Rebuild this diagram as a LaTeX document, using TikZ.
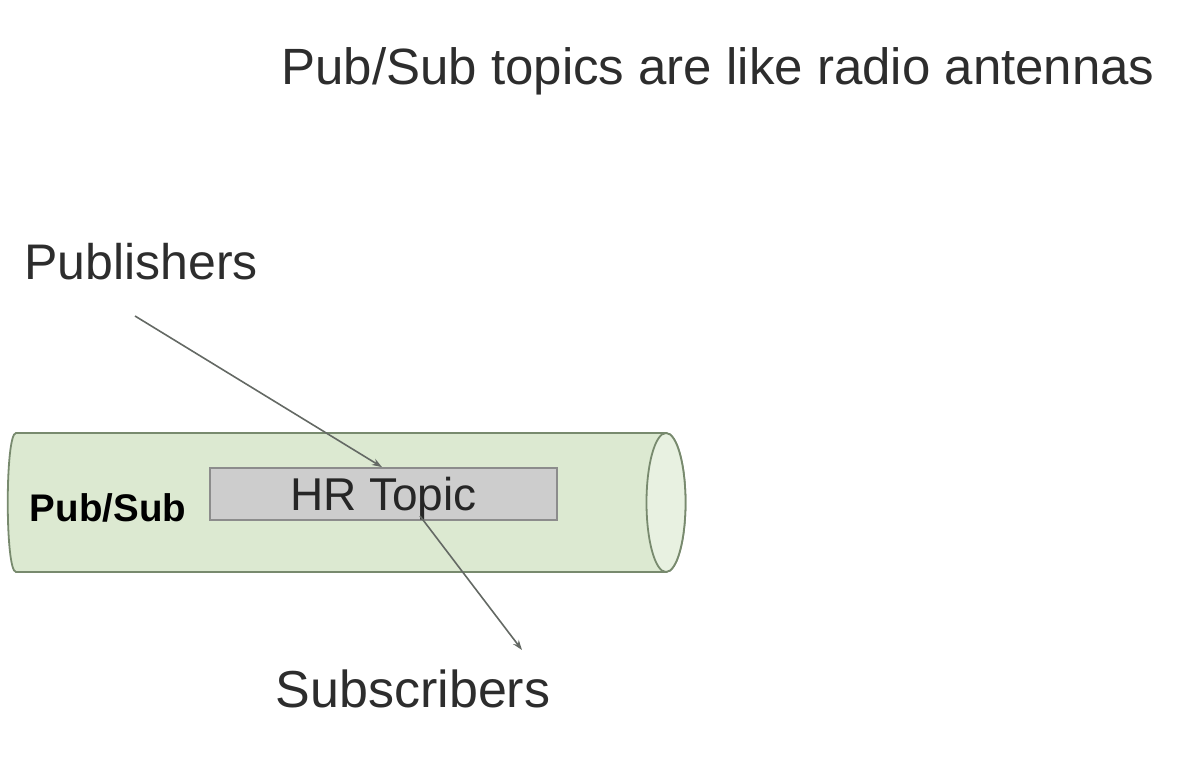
\documentclass[tikz,border=0pt]{standalone}
\usepackage{fontspec}
\setmainfont{Liberation Sans}
\usetikzlibrary{arrows.meta}
\definecolor{cylfill}{RGB}{220,233,209}
\definecolor{cylend}{RGB}{232,241,225}
\definecolor{cyldraw}{RGB}{120,138,110}
\definecolor{topicfill}{RGB}{205,205,205}
\definecolor{topicdraw}{RGB}{140,140,140}
\definecolor{txt}{RGB}{45,45,45}
\definecolor{arr}{RGB}{100,105,100}
\tikzset{
  lbl/.style={inner sep=0pt, text=txt, anchor=base},
  topicbox/.style={draw=topicdraw, line width=1.8pt, fill=topicfill, minimum width=347pt, minimum height=52pt, inner sep=0pt},
  conn/.style={draw=arr, line width=1.6pt, -{Stealth[length=10pt,width=7pt]}},
  cyl/.style={draw=cyldraw, line width=1.8pt, fill=cylfill}
}
\begin{document}
\begin{tikzpicture}[x=1pt,y=-1pt]
\useasboundingbox (0,0) rectangle (1186,778);
% cylinder body
\path[cyl] (666,433) -- (16,433) .. controls (5,433) and (5,572) .. (16,572) -- (666,572)
  arc[start angle=90, end angle=-90, x radius=19.5, y radius=69.5] -- cycle;
\path[cyl, fill=cylend] (666,502.5) ellipse [x radius=19.5, y radius=69.5];
% texts
\node[lbl, font=\fontsize{51}{56}\selectfont] (title) at (718,85) {Pub/Sub topics are like radio antennas};
\node[lbl, font=\fontsize{50}{56}\selectfont] (pub) at (141,279) {Publishers};
\node[lbl, font=\fontsize{52}{56}\selectfont] (sub) at (413,707) {Subscribers};
\node[lbl, font=\fontsize{38.5}{44}\bfseries\selectfont, text=black] (ps) at (108,521) {Pub/Sub};
\node[topicbox] (topic) at (383.5,494) {};
\node[lbl, font=\fontsize{46}{50}\selectfont, text=black!85] (topictxt) at (383.5,510) {HR Topic};
% connectors
\coordinate (pubtail) at (135,316);
\coordinate (subtail) at (420,516);
\coordinate (subhead) at (522,650);
\draw[conn] (pubtail) -- (topic.north -| 382,0);
\draw[conn] (subtail) -- (subhead);
\end{tikzpicture}
\end{document}
